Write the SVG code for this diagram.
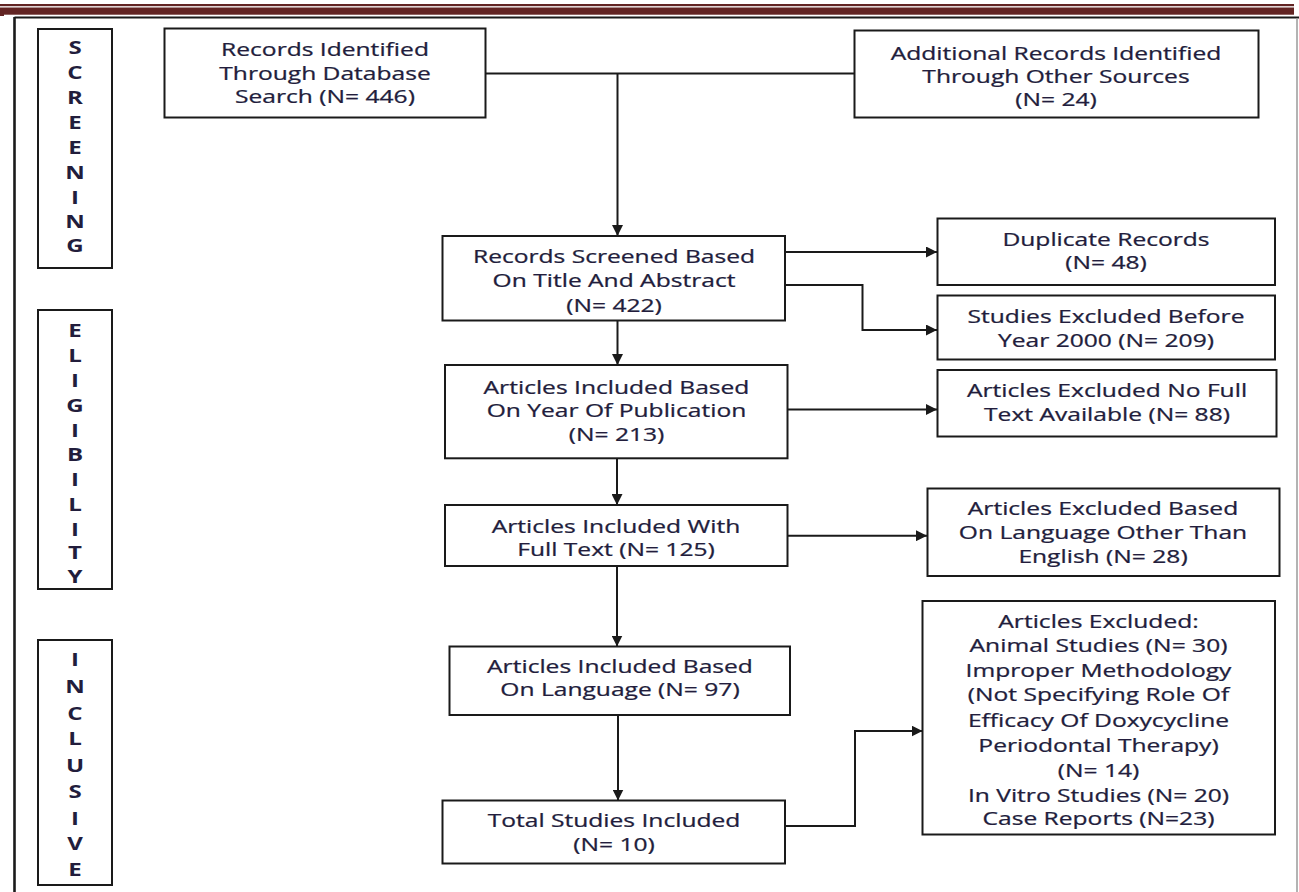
<svg xmlns="http://www.w3.org/2000/svg" width="1299" height="892" viewBox="0 0 1299 892">
<style>
.bx{fill:#fff;stroke:#1a1a1a;stroke-width:2}
.t{font-family:"Open Sans","Liberation Sans",sans-serif;font-size:18.5px;fill:#221d3c;text-anchor:middle;stroke:#221d3c;stroke-width:0.25}
.s{font-family:"Open Sans","Liberation Sans",sans-serif;font-size:18.5px;font-weight:bold;fill:#221d3c;text-anchor:middle}
.c{fill:none;stroke:#1a1a1a;stroke-width:2}
.a{marker-end:url(#ah)}
</style>
<defs>
<marker id="ah" viewBox="0 0 10 10" refX="10" refY="5" markerWidth="11" markerHeight="11" markerUnits="userSpaceOnUse" orient="auto">
<path d="M0,0 L10,5 L0,10 z" fill="#1a1a1a"/>
</marker>
</defs>
<rect width="1299" height="892" fill="#fff"/>
<g id="header">
<rect x="0" y="4" width="1294" height="2.2" fill="#622423"/>
<rect x="0" y="7.5" width="1294" height="7.2" fill="#622423"/>
<rect x="0" y="14" width="4" height="2" fill="#622423"/>
</g>
<g id="frame">
<path d="M14.5,17.5 H1299" stroke="#1a1a1a" stroke-width="2.2" fill="none"/>
<path d="M14.5,17 V892" stroke="#1a1a1a" stroke-width="2.6" fill="none"/>
<path d="M1297,18 V892" stroke="#9a9a9a" stroke-width="1.5" fill="none"/>
</g>
<g id="stage-screening">
<rect class="bx" x="38" y="29" width="74" height="239"/>
<text class="s" transform="translate(75 0) scale(1.3 1)"><tspan x="0" y="54.3">S</tspan><tspan x="0" y="79.5">C</tspan><tspan x="0" y="104.5">R</tspan><tspan x="0" y="129">E</tspan><tspan x="0" y="154">E</tspan><tspan x="0" y="179">N</tspan><tspan x="0" y="204">I</tspan><tspan x="0" y="228.3">N</tspan><tspan x="0" y="252">G</tspan></text>
</g>
<g id="stage-eligibility">
<rect class="bx" x="38" y="310" width="74" height="279"/>
<text class="s" transform="translate(75 0) scale(1.3 1)"><tspan x="0" y="336.7">E</tspan><tspan x="0" y="362.5">L</tspan><tspan x="0" y="387.3">I</tspan><tspan x="0" y="412.3">G</tspan><tspan x="0" y="436.7">I</tspan><tspan x="0" y="461">B</tspan><tspan x="0" y="486.5">I</tspan><tspan x="0" y="511.5">L</tspan><tspan x="0" y="536">I</tspan><tspan x="0" y="559">T</tspan><tspan x="0" y="583">Y</tspan></text>
</g>
<g id="stage-inclusive">
<rect class="bx" x="38" y="640" width="74" height="245"/>
<text class="s" transform="translate(75 0) scale(1.3 1)"><tspan x="0" y="666">I</tspan><tspan x="0" y="693.3">N</tspan><tspan x="0" y="720">C</tspan><tspan x="0" y="745.5">L</tspan><tspan x="0" y="772">U</tspan><tspan x="0" y="798.5">S</tspan><tspan x="0" y="825">I</tspan><tspan x="0" y="850">V</tspan><tspan x="0" y="876">E</tspan></text>
</g>
<g id="connectors">
<path class="c" d="M486,73.5 H855"/>
<path class="c a" d="M617.5,73.5 V236"/>
<path class="c a" d="M785,252 H937"/>
<path class="c a" d="M785,285 H862.5 V330 H937"/>
<path class="c a" d="M617.5,321 V365"/>
<path class="c a" d="M787,409.5 H937"/>
<path class="c a" d="M617,458 V505"/>
<path class="c a" d="M787,535.7 H927"/>
<path class="c a" d="M617,566 V646.5"/>
<path class="c a" d="M618,715 V800.5"/>
<path class="c a" d="M785,826 H855 V731 H922.5"/>
</g>
<g id="n-database">
<rect class="bx" x="164.5" y="28.5" width="321" height="89"/>
<text class="t" transform="translate(325 0) scale(1.33 1)"><tspan x="0" y="56">Records Identified</tspan><tspan x="0" y="80">Through Database</tspan><tspan x="0" y="103.5">Search (N= 446)</tspan></text>
</g>
<g id="n-other">
<rect class="bx" x="854.5" y="30.5" width="404" height="87"/>
<text class="t" transform="translate(1056 0) scale(1.33 1)"><tspan x="0" y="60">Additional Records Identified</tspan><tspan x="0" y="83">Through Other Sources</tspan><tspan x="0" y="106">(N= 24)</tspan></text>
</g>
<g id="n-screened">
<rect class="bx" x="442.5" y="236" width="342.5" height="84.5"/>
<text class="t" transform="translate(614 0) scale(1.33 1)"><tspan x="0" y="262.7">Records Screened Based</tspan><tspan x="0" y="287.3">On Title And Abstract</tspan><tspan x="0" y="311.7">(N= 422)</tspan></text>
</g>
<g id="n-duplicate">
<rect class="bx" x="937.5" y="218.5" width="337.5" height="66.5"/>
<text class="t" transform="translate(1106 0) scale(1.33 1)"><tspan x="0" y="246">Duplicate Records</tspan><tspan x="0" y="269.5">(N= 48)</tspan></text>
</g>
<g id="n-before2000">
<rect class="bx" x="937.5" y="295.5" width="337.5" height="64"/>
<text class="t" transform="translate(1106 0) scale(1.33 1)"><tspan x="0" y="323.3">Studies Excluded Before</tspan><tspan x="0" y="346.7">Year 2000 (N= 209)</tspan></text>
</g>
<g id="n-year">
<rect class="bx" x="445" y="365" width="342.5" height="93.3"/>
<text class="t" transform="translate(616.5 0) scale(1.33 1)"><tspan x="0" y="394">Articles Included Based</tspan><tspan x="0" y="417.5">On Year Of Publication</tspan><tspan x="0" y="441">(N= 213)</tspan></text>
</g>
<g id="n-nofulltext">
<rect class="bx" x="937.5" y="370" width="339" height="66.5"/>
<text class="t" transform="translate(1107 0) scale(1.33 1)"><tspan x="0" y="396.7">Articles Excluded No Full</tspan><tspan x="0" y="420.7">Text Available (N= 88)</tspan></text>
</g>
<g id="n-fulltext">
<rect class="bx" x="445" y="505" width="342.5" height="61"/>
<text class="t" transform="translate(616 0) scale(1.33 1)"><tspan x="0" y="532.7">Articles Included With</tspan><tspan x="0" y="556">Full Text (N= 125)</tspan></text>
</g>
<g id="n-language-excl">
<rect class="bx" x="927.5" y="488.5" width="352" height="87.5"/>
<text class="t" transform="translate(1103 0) scale(1.33 1)"><tspan x="0" y="515">Articles Excluded Based</tspan><tspan x="0" y="539.3">On Language Other Than</tspan><tspan x="0" y="562.7">English (N= 28)</tspan></text>
</g>
<g id="n-language">
<rect class="bx" x="449.5" y="646.5" width="340.5" height="68.5"/>
<text class="t" transform="translate(620 0) scale(1.33 1)"><tspan x="0" y="673.3">Articles Included Based</tspan><tspan x="0" y="696.5">On Language (N= 97)</tspan></text>
</g>
<g id="n-excluded">
<rect class="bx" x="922.5" y="601" width="352.5" height="233.5"/>
<text class="t" transform="translate(1098.5 0) scale(1.33 1)"><tspan x="0" y="628.3">Articles Excluded:</tspan><tspan x="0" y="652">Animal Studies (N= 30)</tspan><tspan x="0" y="676.7">Improper Methodology</tspan><tspan x="0" y="701.5">(Not Specifying Role Of</tspan><tspan x="0" y="727">Efficacy Of Doxycycline</tspan><tspan x="0" y="751.7">Periodontal Therapy)</tspan><tspan x="0" y="776.7">(N= 14)</tspan><tspan x="0" y="801.7">In Vitro Studies (N= 20)</tspan><tspan x="0" y="825">Case Reports (N=23)</tspan></text>
</g>
<g id="n-total">
<rect class="bx" x="442.5" y="800.5" width="342.5" height="63"/>
<text class="t" transform="translate(614 0) scale(1.33 1)"><tspan x="0" y="826.7">Total Studies Included</tspan><tspan x="0" y="851">(N= 10)</tspan></text>
</g>
</svg>
